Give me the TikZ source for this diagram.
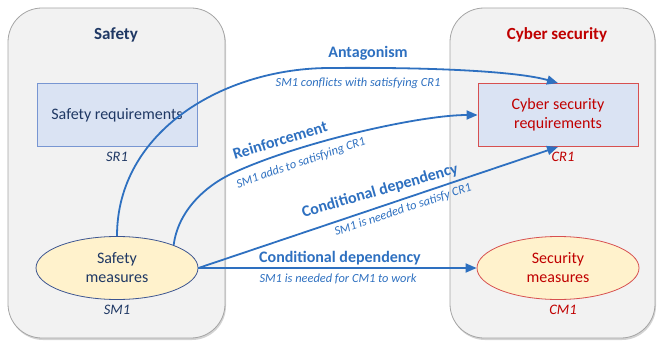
\documentclass[tikz,border=0pt]{standalone}
\usepackage{fontspec}
\setmainfont{Carlito}
\usetikzlibrary{shapes.geometric,arrows.meta,shadows}
\definecolor{arrowblue}{RGB}{46,112,192}
\definecolor{navy}{RGB}{31,56,100}
\definecolor{darkred}{RGB}{192,0,0}
\definecolor{reqfill}{RGB}{218,227,243}
\definecolor{reqborder}{RGB}{120,150,210}
\definecolor{redborder}{RGB}{215,80,80}
\definecolor{measfill}{RGB}{255,242,204}
\definecolor{measborder}{RGB}{60,85,145}
\definecolor{panelfill}{RGB}{242,242,242}
\definecolor{panelborder}{RGB}{165,165,165}
\tikzset{
  panel/.style={draw=panelborder, line width=0.8pt, fill=panelfill, rounded corners=34pt,
    drop shadow={shadow xshift=1pt, shadow yshift=-2pt, opacity=0.35}},
  title/.style={font=\fontsize{17}{20}\selectfont\bfseries, inner sep=0pt},
  reqbox/.style={rectangle, fill=reqfill, line width=0.8pt, minimum width=160pt, minimum height=63pt,
    align=center, font=\fontsize{16}{19}\selectfont},
  measell/.style={ellipse, fill=measfill, line width=0.8pt, minimum width=162pt, minimum height=63pt,
    inner sep=0pt, align=center, font=\fontsize{16}{19}\selectfont},
  idlabel/.style={font=\fontsize{14.5}{17}\selectfont\itshape, inner sep=0pt},
  rel/.style={draw=arrowblue, line width=1.8pt, -{Triangle[length=11pt,width=9pt]}},
  relname/.style={text=arrowblue, font=\fontsize{16}{19}\selectfont\bfseries, inner sep=0pt},
  relnote/.style={text=arrowblue, font=\fontsize{12.4}{15}\selectfont\itshape, inner sep=0pt},
}
\begin{document}
\begin{tikzpicture}[x=1pt,y=1pt]
\useasboundingbox (0,0) rectangle (660,346);
% panels
\node[panel, minimum width=217pt, minimum height=330pt] (lp) at (116.5,173) {};
\node[panel, minimum width=205pt, minimum height=330pt] (rp) at (552.5,173) {};
% titles
\node[title, text=navy] (st) at (116,311) {Safety};
\node[title, text=darkred] (ct) at (557,311) {Cyber security};
% requirements
\node[reqbox, draw=reqborder, text=navy] (SR) at (117,231) {Safety requirements};
\node[idlabel, text=navy] (sr1) at (117,189) {SR1};
\node[reqbox, draw=redborder, text=darkred] (CR) at (558,231) {Cyber security\\requirements};
\node[idlabel, text=darkred] (cr1) at (563,189) {CR1};
% measures
\node[measell, draw=measborder, text=navy] (SM) at (117,78) {Safety\\measures};
\node[idlabel, text=navy] (sm1) at (117,36) {SM1};
\node[measell, draw=redborder, text=darkred] (CM) at (558,78) {Security\\measures};
\node[idlabel, text=darkred] (cm1) at (563,36) {CM1};
% relations
\coordinate (apeak) at (330,278);
\coordinate (rmid) at (233,173);
\draw[rel] (SM.north) .. controls (117,215) and (224,278) .. (apeak)
  .. controls (440,279) and (520,274) .. (CR.north);
\draw[rel] (SM.22) .. controls (178,135) and (205,160) .. (rmid)
  .. controls (300,204) and (420,231) .. (CR.west);
\draw[rel] (SM.east) -- (CR.south);
\draw[rel] (SM.east) -- (CM.west);
% relation labels
\node[relname] (l1) at (368,293) {Antagonism};
\node[relnote] (n1) at (358,263) {SM1 conflicts with satisfying CR1};
\node[relname, rotate=17] (l2) at (280,206) {Reinforcement};
\node[relnote, rotate=19] (n2) at (301,183) {SM1 adds to satisfying CR1};
\node[relname, rotate=16] (l3) at (380,155) {Conditional dependency};
\node[relnote, rotate=18.5] (n3) at (403,136) {SM1 is needed to satisfy CR1};
\node[relname] (l4) at (340,88) {Conditional dependency};
\node[relnote] (n4) at (338,67) {SM1 is needed for CM1 to work};
\end{tikzpicture}
\end{document}
